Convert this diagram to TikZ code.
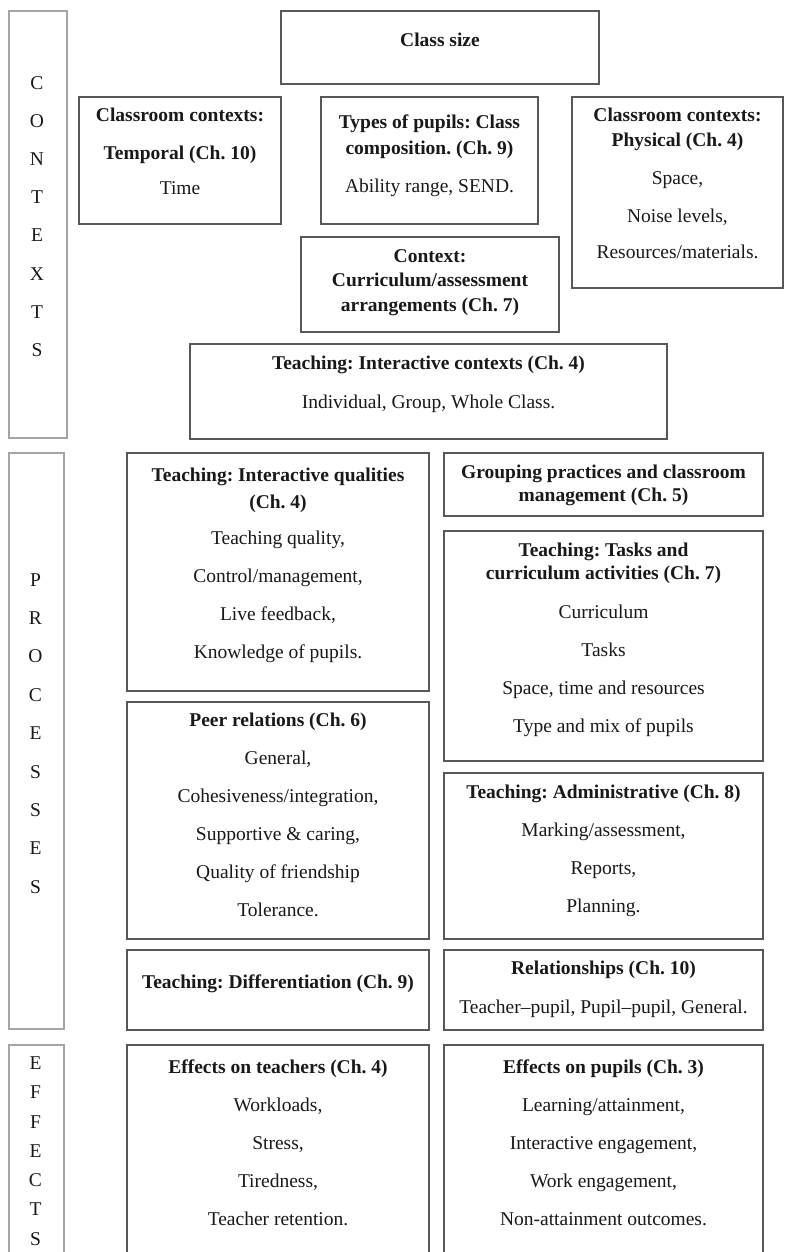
\documentclass[tikz,border=0pt]{standalone}
\usepackage{fontspec}
\setmainfont{Liberation Serif}
\usetikzlibrary{positioning}
\definecolor{boxgray}{RGB}{88,88,88}
\definecolor{sidegray}{RGB}{165,165,165}
\definecolor{txtgray}{RGB}{25,25,25}
\frenchspacing

\begin{document}
\begin{tikzpicture} [x = 1pt, y = -1pt,
    every node/.style = {font = \fontsize{19.5}{38}\selectfont, text = txtgray},
    box/.style = {draw = boxgray, line width = 2pt, anchor = north west, inner sep = 0pt},
    side/.style = {draw = sidegray, line width = 1.6pt, anchor = north west, inner sep = 0pt},
    txt/.style = {align = center, inner sep = 0pt}]
\useasboundingbox (0,0) rectangle (784,1252);
\fill[white] (0,0) rectangle (784,1252);

\node[side, minimum width = 58pt, minimum height = 427pt] (ctxbar) at (8,10) {};
\node[side, minimum width = 55pt, minimum height = 576pt] (procbar) at (8,452) {};
\node[side, minimum width = 55pt, minimum height = 240pt] (effbar) at (8,1044) {};
\node[txt, font = \fontsize{19.5}{38.1}\selectfont] (ctxlbl) at (37,216.5) {C\\O\\N\\T\\E\\X\\T\\S};
\node[txt, font = \fontsize{19.5}{38.4}\selectfont] (proclbl) at (35.5,733.5) {P\\R\\O\\C\\E\\S\\S\\E\\S};
\node[txt, font = \fontsize{19.5}{29.3}\selectfont] (efflbl) at (35.5,1151) {E\\F\\F\\E\\C\\T\\S};

\node[box, minimum width = 318pt, minimum height = 73pt] (size) at (280,10) {};
\node[txt, below = 23pt of size.north] (size-t) {\textbf{Class size}};

\node[box, minimum width = 202pt, minimum height = 127pt] (temporal) at (78,96) {};
\node[txt, below = 12pt of temporal.north] (temporal-t)
    {\textbf{Classroom contexts:}\\\textbf{Temporal (Ch. 10)}\\[-3pt]Time};

\node[box, minimum width = 217pt, minimum height = 127pt] (pupils) at (320,96) {};
\node[txt, below = 19pt of pupils.north] (pupils-t)
    {\textbf{Types of pupils: Class}\\[-12pt]\textbf{composition. (Ch. 9)}\\Ability range, SEND.};

\node[box, minimum width = 211pt, minimum height = 191pt] (physical) at (571,96) {};
\node[txt, below = 12pt of physical.north] (physical-t)
    {\textbf{Classroom contexts:}\\[-13pt]\textbf{Physical (Ch. 4)}\\Space,\\Noise levels,\\[-2pt]Resources/materials.};

\node[box, minimum width = 258pt, minimum height = 95pt] (curric) at (300,236) {};
\node[txt, below = 13pt of curric.north] (curric-t)
    {\textbf{Context:}\\[-13.5pt]\textbf{Curriculum/assessment}\\[-13.5pt]\textbf{arrangements (Ch. 7)}};

\node[box, minimum width = 477pt, minimum height = 95pt] (icontext) at (189,343) {};
\node[txt, below = 13pt of icontext.north] (icontext-t)
    {\textbf{Teaching: Interactive contexts (Ch. 4)}\\[1pt]Individual, Group, Whole Class.};

\node[box, minimum width = 302pt, minimum height = 238pt] (iqual) at (126,452) {};
\node[txt, below = 16pt of iqual.north] (iqual-t)
    {\textbf{Teaching: Interactive qualities}\\[-11pt]\textbf{(Ch. 4)}\\[-2pt]Teaching quality,\\Control/management,\\Live feedback,\\Knowledge of pupils.};

\node[box, minimum width = 319pt, minimum height = 63pt] (grouping) at (443,452) {};
\node[txt, below = 13pt of grouping.north] (grouping-t)
    {\textbf{Grouping practices and classroom}\\[-15pt]\textbf{management (Ch. 5)}};

\node[box, minimum width = 319pt, minimum height = 230pt] (tasks) at (443,530) {};
\node[txt, below = 13pt of tasks.north] (tasks-t)
    {\textbf{Teaching: Tasks and}\\[-15pt]\textbf{curriculum activities (Ch. 7)}\\[1pt]Curriculum\\Tasks\\Space, time and resources\\Type and mix of pupils};

\node[box, minimum width = 302pt, minimum height = 237pt] (peer) at (126,701) {};
\node[txt, below = 12pt of peer.north] (peer-t)
    {\textbf{Peer relations (Ch. 6)}\\General,\\Cohesiveness/integration,\\Supportive \& caring,\\Quality of friendship\\Tolerance.};

\node[box, minimum width = 319pt, minimum height = 166pt] (admin) at (443,772) {};
\node[txt, below = 13pt of admin.north] (admin-t)
    {\textbf{Teaching: Administrative (Ch. 8)}\\Marking/assessment,\\Reports,\\Planning.};

\node[box, minimum width = 302pt, minimum height = 80pt] (diff) at (126,949) {};
\node[txt, below = 26pt of diff.north] (diff-t) {\textbf{Teaching: Differentiation (Ch. 9)}};

\node[box, minimum width = 319pt, minimum height = 80pt] (relations) at (443,949) {};
\node[txt, below = 12pt of relations.north] (relations-t)
    {\textbf{Relationships (Ch. 10)}\\[1pt]Teacher–pupil, Pupil–pupil, General.};

\node[box, minimum width = 302pt, minimum height = 240pt] (efteach) at (126,1044) {};
\node[txt, below = 16pt of efteach.north] (efteach-t)
    {\textbf{Effects on teachers (Ch. 4)}\\Workloads,\\Stress,\\Tiredness,\\Teacher retention.};

\node[box, minimum width = 319pt, minimum height = 240pt] (efpupil) at (443,1044) {};
\node[txt, below = 16pt of efpupil.north] (efpupil-t)
    {\textbf{Effects on pupils (Ch. 3)}\\Learning/attainment,\\Interactive engagement,\\Work engagement,\\Non-attainment outcomes.};
\end{tikzpicture}
\end{document}
